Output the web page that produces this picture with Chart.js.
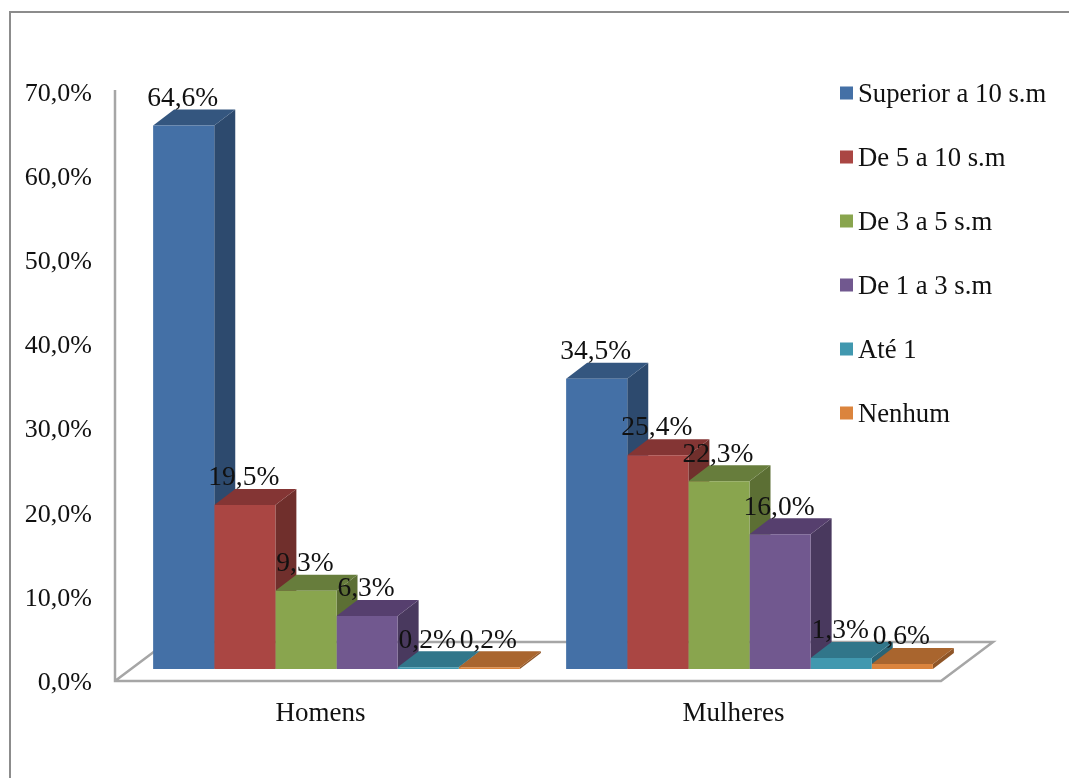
<!DOCTYPE html>
<html>
<head>
<meta charset="utf-8">
<title>Renda por sexo</title>
<script src="https://cdn.jsdelivr.net/npm/chart.js@4/dist/chart.umd.min.js"></script>
<style>
    html, body { margin: 0; padding: 0; background: #fff; overflow: hidden; }
    #frame { position: absolute; left: 9px; top: 11px; right: 0; bottom: 0; border-left: 2px solid #8c8c8c; border-top: 2px solid #8c8c8c; }
    #grafico { position: absolute; left: 0; top: 0; }
</style>
</head>
<body>
<div id="frame"></div>
<canvas id="grafico" width="1069" height="778"></canvas>
<script>
var categories = ['Homens', 'Mulheres'];

var superior10 = [64.6, 34.5];
var de5a10 = [19.5, 25.4];
var de3a5 = [9.3, 22.3];
var de1a3 = [6.3, 16.0];
var ate1 = [0.2, 1.3];
var nenhum = [0.2, 0.6];

var seriesLabels = ['Superior a 10 s.m', 'De 5 a 10 s.m', 'De 3 a 5 s.m', 'De 1 a 3 s.m', 'Até 1', 'Nenhum'];
var seriesValues = [superior10, de5a10, de3a5, de1a3, ate1, nenhum];

var frontColors = ['#4470a6', '#aa4643', '#89a54e', '#71588f', '#4198af', '#db843d'];
var topColors = ['#34567f', '#843534', '#677d3c', '#563f6e', '#31768a', '#a9652e'];
var sideColors = ['#2d4a6e', '#702f2c', '#5c6f34', '#49395e', '#2a6475', '#8f5527'];

var FONT = '"Liberation Serif", "Times New Roman", serif';
var DEPTH_X = 21, DEPTH_Y = 16;

function pct(v) {
    return v.toFixed(1).replace('.', ',') + '%';
}

// floor, left wall and the depth faces of the bars, Chart.js has no 3d bars
var bars3d = {
    id: 'bars3d',
    beforeDatasetsDraw: function(chart) {
        var ctx = chart.ctx;
        var area = chart.chartArea;
        var y0 = chart.scales.y.getPixelForValue(0);
        var yMax = chart.scales.y.getPixelForValue(70);

        var fx = area.left - 15, fy = y0 + 12;
        var fr = area.right - 15;
        ctx.save();
        ctx.strokeStyle = '#a6a6a6';
        ctx.lineWidth = 2.5;
        ctx.beginPath();
        ctx.moveTo(fx, yMax + 10);
        ctx.lineTo(fx, fy);
        ctx.lineTo(fr, fy);
        ctx.lineTo(fr + 52, fy - 39);
        ctx.lineTo(fx + 52, fy - 39);
        ctx.lineTo(fx, fy);
        ctx.stroke();

        chart.data.datasets.forEach(function(ds, i) {
            chart.getDatasetMeta(i).data.forEach(function(bar) {
                var l = bar.x - bar.width / 2, r = bar.x + bar.width / 2;
                ctx.fillStyle = sideColors[i];
                ctx.beginPath();
                ctx.moveTo(r, bar.y);
                ctx.lineTo(r + DEPTH_X, bar.y - DEPTH_Y);
                ctx.lineTo(r + DEPTH_X, bar.base - DEPTH_Y);
                ctx.lineTo(r, bar.base);
                ctx.closePath();
                ctx.fill();
                ctx.fillStyle = topColors[i];
                ctx.beginPath();
                ctx.moveTo(l, bar.y);
                ctx.lineTo(l + DEPTH_X, bar.y - DEPTH_Y);
                ctx.lineTo(r + DEPTH_X, bar.y - DEPTH_Y);
                ctx.lineTo(r, bar.y);
                ctx.closePath();
                ctx.fill();
            });
        });
        ctx.restore();
    },
    afterDatasetsDraw: function(chart) {
        var ctx = chart.ctx;
        ctx.save();
        ctx.font = '27.5px ' + FONT;
        ctx.fillStyle = '#111';
        ctx.textAlign = 'center';
        ctx.textBaseline = 'middle';
        chart.data.datasets.forEach(function(ds, i) {
            chart.getDatasetMeta(i).data.forEach(function(bar, j) {
                ctx.fillText(pct(ds.data[j]), bar.x - 1, bar.y - 27);
            });
        });

        // legend, the gap between box and text is tighter than the built-in one allows
        ctx.font = '26.7px ' + FONT;
        ctx.textAlign = 'left';
        chart.data.datasets.forEach(function(ds, i) {
            var y = 93 + i * 64;
            ctx.fillStyle = frontColors[i];
            ctx.fillRect(840, y - 6.5, 13, 13);
            ctx.fillStyle = '#111';
            ctx.fillText(ds.label, 858, y + 2);
        });
        ctx.restore();
    }
};

var datasets = seriesLabels.map(function(label, i) {
    return {
        label: label,
        data: seriesValues[i],
        backgroundColor: frontColors[i],
        barPercentage: 1,
        categoryPercentage: 0.888
    };
});

new Chart(document.getElementById('grafico').getContext('2d'), {
    type: 'bar',
    data: { labels: categories, datasets: datasets },
    plugins: [bars3d],
    options: {
        responsive: false,
        animation: false,
        layout: { padding: { top: 80, right: 113, bottom: 0, left: 0 } },
        plugins: {
            legend: { display: false },
            tooltip: { enabled: false }
        },
        scales: {
            x: {
                grid: { display: false, drawTicks: false },
                border: { display: false },
                afterFit: function(scale) { scale.height = 109; },
                ticks: {
                    padding: 29,
                    labelOffset: -16,
                    maxRotation: 0,
                    color: '#111',
                    font: { family: FONT, size: 27 }
                }
            },
            y: {
                min: 0,
                max: 70,
                grid: { display: false, drawTicks: false },
                border: { display: false },
                afterFit: function(scale) { scale.width = 130; },
                ticks: {
                    stepSize: 10,
                    padding: 38,
                    labelOffset: 14,
                    color: '#111',
                    font: { family: FONT, size: 26 },
                    callback: function(value) { return pct(value); }
                }
            }
        }
    }
});
</script>
</body>
</html>
